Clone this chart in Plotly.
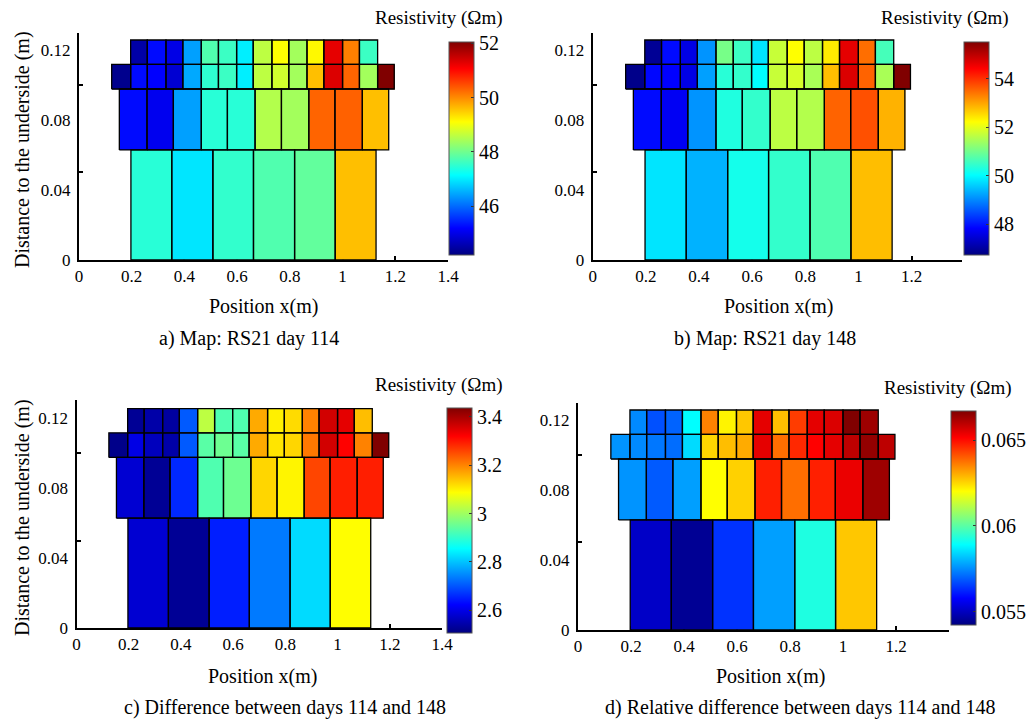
import plotly.graph_objects as go

# ---- mesh geometry (m) ----
X_BOTTOM = [0.197, 0.352, 0.508, 0.662, 0.818, 0.972, 1.127]
X_MIDDLE = [0.153, 0.258, 0.358, 0.464, 0.563, 0.668, 0.768, 0.872, 0.971, 1.075, 1.175]
X_SECOND = [0.124, 0.196, 0.259, 0.330, 0.394, 0.464, 0.529, 0.598, 0.661, 0.732,
            0.796, 0.865, 0.929, 1.000, 1.064, 1.133, 1.196]
X_TOP = X_SECOND[1:16]
Y_BOTTOM = [0.0, 0.0629]
Y_MIDDLE = [0.0629, 0.0977]
Y_SECOND = [0.0977, 0.1118]
Y_TOP = [0.1118, 0.1257]

# ---- a) day 114 ----
A_TOP = [44.5, 45.26, 44.99, 46.41, 47.76, 47.6, 47.02, 48.6, 49.1, 48.4, 49.15, 51.26, 50.09, 47.6]
A_SECOND = [44.3, 45.26, 45.18, 44.83, 46.48, 47.5, 47.6, 47.02, 48.6, 48.75, 48.4, 49.6, 51.34, 50.3, 48.4, 52.05]
A_MIDDLE = [45.26, 45.06, 46.41, 47.45, 47.45, 48.52, 48.4, 50.3, 50.32, 49.6]
A_BOTTOM = [47.45, 46.95, 47.53, 47.76, 47.9, 49.6]
# ---- b) day 148 ----
B_TOP = [46.9, 47.91, 47.6, 49.1, 51.05, 50.54, 49.8, 51.74, 52.23, 51.65, 52.4, 54.65, 53.48, 50.62]
B_SECOND = [46.81, 47.87, 47.82, 47.6, 49.2, 50.37, 50.46, 50.02, 51.74, 51.87, 51.48, 52.79, 54.74, 53.57, 51.48, 55.53]
B_MIDDLE = [47.91, 47.73, 49.1, 50.29, 50.46, 51.65, 51.57, 53.57, 53.74, 52.89]
B_BOTTOM = [49.8, 49.36, 50.2, 50.46, 50.71, 52.79]
# ---- c) difference ----
C_TOP = [2.524, 2.542, 2.533, 2.704, 3.027, 2.927, 2.927, 3.165, 3.101, 3.12, 3.202, 3.362, 3.344, 3.147]
C_SECOND = [2.514, 2.598, 2.561, 2.542, 2.704, 2.936, 2.954, 2.936, 3.165, 3.111, 3.125, 3.211, 3.362, 3.32, 3.202, 3.437]
C_MIDDLE = [2.58, 2.524, 2.658, 2.927, 2.954, 3.125, 3.097, 3.257, 3.293, 3.293]
C_BOTTOM = [2.58, 2.524, 2.649, 2.733, 2.822, 3.088]
# ---- d) relative difference ----
D_TOP = [0.05748, 0.05677, 0.05700, 0.05891, 0.06355, 0.06215, 0.06271, 0.06545, 0.06281, 0.06440,
         0.06545, 0.06557, 0.06669, 0.06632]
D_SECOND = [0.05760, 0.05748, 0.05725, 0.05713, 0.05847, 0.06252, 0.06281, 0.06305, 0.06545, 0.06379,
            0.06465, 0.06513, 0.06545, 0.06594, 0.06644, 0.06594]
D_MIDDLE = [0.0576, 0.05689, 0.05774, 0.06202, 0.06258, 0.06476, 0.06379, 0.06476, 0.06538, 0.06632]
D_BOTTOM = [0.05511, 0.05449, 0.05641, 0.05774, 0.05928, 0.06271]

CAPTIONS = ["a) Map: RS21 day 114", "b) Map: RS21 day 148",
            "c) Difference between days 114 and 148", "d) Relative difference between days 114 and 148"]
CB_TICKS = [[46, 48, 50, 52], [48, 50, 52, 54], [2.6, 2.8, 3, 3.2, 3.4], [0.055, 0.06, 0.065]]
CB_RANGE = [[44.2, 52.05], [46.72, 55.53], [2.505, 3.437], [0.05424, 0.06669]]
X_TICKS = [[0, 0.2, 0.4, 0.6, 0.8, 1, 1.2, 1.4], [0, 0.2, 0.4, 0.6, 0.8, 1, 1.2],
           [0, 0.2, 0.4, 0.6, 0.8, 1, 1.2, 1.4], [0, 0.2, 0.4, 0.6, 0.8, 1, 1.2]]
Y_TICKS = [0, 0.04, 0.08, 0.12]

PANELS = [
    (A_TOP, A_SECOND, A_MIDDLE, A_BOTTOM),
    (B_TOP, B_SECOND, B_MIDDLE, B_BOTTOM),
    (C_TOP, C_SECOND, C_MIDDLE, C_BOTTOM),
    (D_TOP, D_SECOND, D_MIDDLE, D_BOTTOM),
]
ROWS = [(X_TOP, Y_TOP), (X_SECOND, Y_SECOND), (X_MIDDLE, Y_MIDDLE), (X_BOTTOM, Y_BOTTOM)]

JET = [[0, 'rgb(0,0,128)'], [0.125, 'rgb(0,0,255)'], [0.375, 'rgb(0,255,255)'],
       [0.625, 'rgb(255,255,0)'], [0.875, 'rgb(255,0,0)'], [1, 'rgb(128,0,0)']]

W, H = 1036, 720
FONT = "Times New Roman, Liberation Serif, DejaVu Serif, serif"

# layout in pixels: (x0_px, x1_px, xmax, ybottom_px, ytop_px, ymax)
GEOM = [
    (79, 448, 1.4, 260, 33, 0.1297),
    (592.7, 962, 1.39, 260, 33, 0.1297),
    (76.5, 442, 1.4, 628, 400, 0.1306),
    (578, 949, 1.4, 630, 403, 0.1297),
]
CB_GEOM = [  # left px, top px, bottom px
    (449, 42, 255), (964, 42, 255), (447, 408, 633), (951, 411, 625)]
CB_TITLE = [(439, 18), (945, 18), (439, 385), (948, 388)]
XT_POS = [(263, 306), (778, 306), (262, 676), (770, 676)]
CAP_POS = [(249, 338), (765, 338), (285, 707), (800, 707)]
YT_POS = [(22, 150), (22, 518)]

fig = go.Figure()
layout = dict(width=W, height=H, margin=dict(l=0, r=0, t=0, b=0, autoexpand=False),
              paper_bgcolor="white", plot_bgcolor="white", showlegend=False,
              font=dict(family=FONT, color="black"))
annotations = []

for i, (vals, geom) in enumerate(zip(PANELS, GEOM)):
    n = i + 1
    xa = "x" if n == 1 else f"x{n}"
    ya = "y" if n == 1 else f"y{n}"
    ca = "coloraxis" if n == 1 else f"coloraxis{n}"
    for (xs, ys), z in zip(ROWS, vals):
        fig.add_trace(go.Heatmap(x=xs, y=ys, z=[z], coloraxis=ca, xaxis=xa, yaxis=ya,
                                 hoverinfo="skip"))
    # cell borders
    bx, by = [], []
    for xs, ys in ROWS:
        for k in range(len(xs) - 1):
            bx += [xs[k], xs[k + 1], xs[k + 1], xs[k], xs[k], None]
            by += [ys[0], ys[0], ys[1], ys[1], ys[0], None]
    fig.add_trace(go.Scatter(x=bx, y=by, mode="lines", line=dict(color="black", width=1.3),
                             xaxis=xa, yaxis=ya, hoverinfo="skip"))

    x0, x1, xmax, yb, yt, ymax = geom
    xkey = "xaxis" if n == 1 else f"xaxis{n}"
    ykey = "yaxis" if n == 1 else f"yaxis{n}"
    layout[xkey] = dict(domain=[x0 / W, x1 / W], range=[0, xmax], anchor=ya, automargin=False,
                        showline=True, linecolor="black", linewidth=2, showgrid=False,
                        zeroline=False, tickvals=X_TICKS[i], ticktext=[f"{v:g}" for v in X_TICKS[i]],
                        ticks="inside", ticklen=4, tickwidth=2, tickcolor="black",
                        layer="below traces", tickfont=dict(size=17, family=FONT))
    layout[ykey] = dict(domain=[1 - yb / H, 1 - yt / H], range=[0, ymax], anchor=xa, automargin=False,
                        showline=True, linecolor="black", linewidth=2, showgrid=False,
                        zeroline=False, tickvals=Y_TICKS, ticktext=[f"{v:g}" for v in Y_TICKS],
                        ticks="", ticklabelstandoff=3,
                        minor=dict(tickvals=[0.05, 0.1], ticks="inside", ticklen=4,
                                   tickwidth=2, tickcolor="black", showgrid=False),
                        tickfont=dict(size=17, family=FONT))
    cl, ct, cbt = CB_GEOM[i]
    layout[ca] = dict(colorscale=JET, cmin=CB_RANGE[i][0], cmax=CB_RANGE[i][1],
                      colorbar=dict(x=cl / W, xanchor="left", xref="paper", thickness=25,
                                    thicknessmode="pixels", lenmode="pixels", len=cbt - ct,
                                    y=1 - (ct + cbt) / 2 / H, yanchor="middle", xpad=0, ypad=0,
                                    outlinewidth=1, outlinecolor="#555",
                                    tickvals=CB_TICKS[i], ticktext=[f"{v:g}" for v in CB_TICKS[i]],
                                    ticks="inside", ticklen=3, tickcolor="#333",
                                    tickfont=dict(size=20, family=FONT)))
    tx, ty = CB_TITLE[i]
    annotations.append(dict(text="Resistivity (Ωm)", x=tx / W, y=1 - ty / H, xref="paper", yref="paper",
                            showarrow=False, xanchor="center", yanchor="middle",
                            font=dict(size=19, family=FONT)))
    px, py = XT_POS[i]
    annotations.append(dict(text="Position x(m)", x=px / W, y=1 - py / H, xref="paper", yref="paper",
                            showarrow=False, xanchor="center", yanchor="middle",
                            font=dict(size=20, family=FONT)))
    cx, cy = CAP_POS[i]
    annotations.append(dict(text=CAPTIONS[i], x=cx / W, y=1 - cy / H, xref="paper", yref="paper",
                            showarrow=False, xanchor="center", yanchor="middle",
                            font=dict(size=20, family=FONT)))

for yx, yy in YT_POS:
    annotations.append(dict(text="Distance to the underside (m)", x=yx / W, y=1 - yy / H,
                            xref="paper", yref="paper", showarrow=False, textangle=-90,
                            xanchor="center", yanchor="middle", font=dict(size=20, family=FONT)))

layout["annotations"] = annotations
fig.update_layout(**layout)
fig.write_html("out.html", config={"displayModeBar": False},
               post_script="document.body.style.margin='0';document.body.style.overflow='hidden';")
